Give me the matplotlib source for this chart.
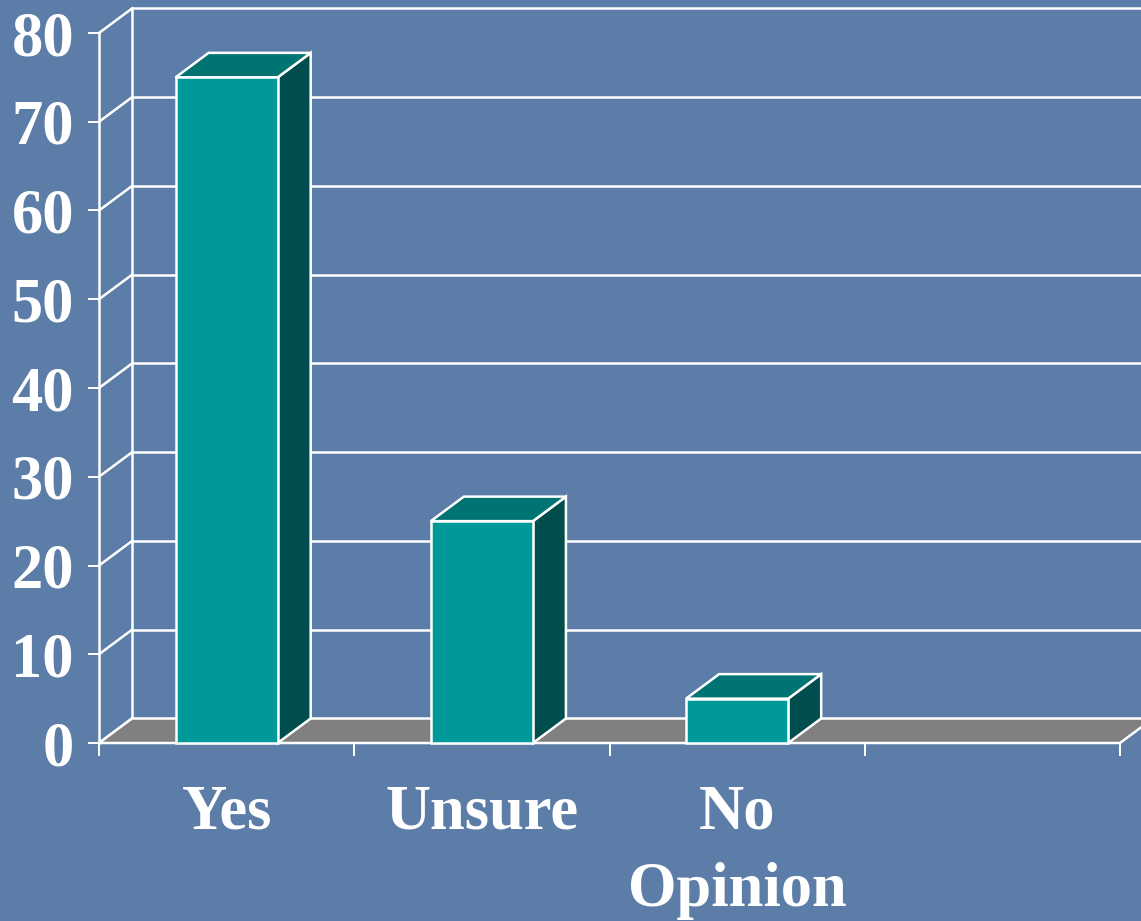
import matplotlib
matplotlib.use("Agg")
import matplotlib.pyplot as plt
from matplotlib.patches import Polygon

# ---- data ----
categories = ["Yes", "Unsure", "No\nOpinion"]
values = [75, 25, 5]
yticks = [0, 10, 20, 30, 40, 50, 60, 70, 80]
n_slots = 4

# ---- style ----
BG = "#5c7da7"
FRONT = "#009999"
TOP = "#007373"
SIDE = "#004d4d"
FLOOR = "#808080"
WHITE = "white"
FONT = ["Liberation Serif", "DejaVu Serif"]

W, H, DPI = 1141, 921, 100
fig = plt.figure(figsize=(W / DPI, H / DPI), dpi=DPI, facecolor=BG)

left_px, right_px = 99, 1120
bot_px, top_px = 743, 33
ax = fig.add_axes([left_px / W, 1 - bot_px / H,
                   (right_px - left_px) / W, (bot_px - top_px) / H])
ax.set_facecolor("none")
ax.set_xlim(0, n_slots)
ax.set_ylim(0, 80)
for s in ax.spines.values():
    s.set_visible(False)

# depth offset (in data units)
dx = 33 / ((right_px - left_px) / n_slots)
dy = 24.5 / ((bot_px - top_px) / 80)

lw = 1.8
# back wall gridlines and side-wall diagonals
for v in yticks:
    ax.plot([dx, n_slots + 1], [v + dy, v + dy], color=WHITE, lw=lw,
            clip_on=False, zorder=1, solid_capstyle="butt")
    ax.plot([0, dx], [v, v + dy], color=WHITE, lw=lw, clip_on=False, zorder=1)
ax.plot([dx, dx], [dy, 80 + dy], color=WHITE, lw=lw, clip_on=False, zorder=1)
ax.plot([0, 0], [0, 80], color=WHITE, lw=lw, clip_on=False, zorder=1)

# floor
floor = Polygon([(0, 0), (n_slots, 0), (n_slots + dx, dy), (dx, dy)],
                closed=True, facecolor=FLOOR, edgecolor=WHITE, lw=lw,
                clip_on=False, zorder=2)
ax.add_patch(floor)

# bars
bw = 0.4
for i, v in enumerate(values):
    c = i + 0.5
    x0, x1 = c - bw / 2, c + bw / 2
    side = Polygon([(x1, 0), (x1 + dx, dy), (x1 + dx, v + dy), (x1, v)],
                   closed=True, facecolor=SIDE, edgecolor=WHITE, lw=lw,
                   clip_on=False, zorder=3, joinstyle="miter")
    top = Polygon([(x0, v), (x1, v), (x1 + dx, v + dy), (x0 + dx, v + dy)],
                  closed=True, facecolor=TOP, edgecolor=WHITE, lw=lw,
                  clip_on=False, zorder=3, joinstyle="miter")
    ax.add_patch(side)
    ax.add_patch(top)
    ax.bar(c, v, width=bw, color=FRONT, edgecolor=WHITE, linewidth=lw,
           zorder=4, clip_on=False)

# y ticks
ax.set_yticks(yticks)
ax.set_yticklabels([str(t) for t in yticks])
ax.tick_params(axis="y", colors=WHITE, length=8, width=1.4, pad=10,
               direction="out")
for lab in ax.get_yticklabels():
    lab.set_fontfamily(FONT)
    lab.set_fontweight("bold")
    lab.set_fontsize(45)
    lab.set_color(WHITE)

# x ticks: major at slot edges, labels at slot centres
ax.set_xticks(range(n_slots + 1))
ax.set_xticklabels([""] * (n_slots + 1))
ax.tick_params(axis="x", which="major", colors=WHITE, length=9, width=1.4,
               direction="out")
ax.set_xticks([i + 0.5 for i in range(len(categories))], minor=True)
ax.set_xticklabels(categories, minor=True)
ax.tick_params(axis="x", which="minor", length=0, pad=30, colors=WHITE)
for lab in ax.get_xticklabels(minor=True):
    lab.set_fontfamily(FONT)
    lab.set_fontweight("bold")
    lab.set_fontsize(45)
    lab.set_color(WHITE)
    lab.set_linespacing(1.45)

fig.savefig("out.png", dpi=DPI, facecolor=BG)
